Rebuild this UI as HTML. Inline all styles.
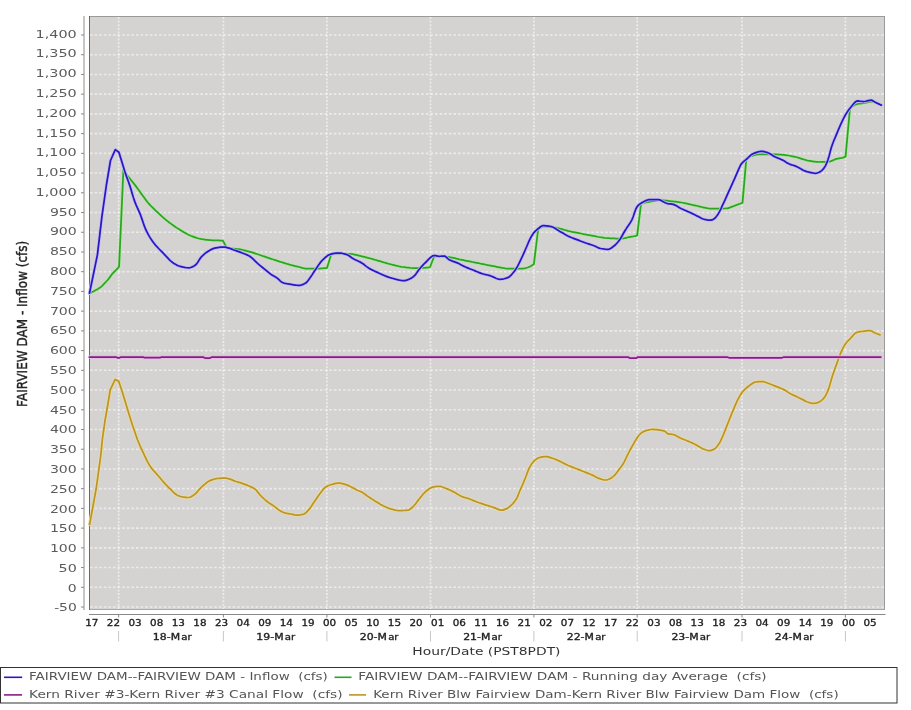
<!DOCTYPE html><html><head><meta charset="utf-8"><style>html,body{margin:0;padding:0;background:#fff;width:911px;height:710px;overflow:hidden}svg{display:block;will-change:transform}text{font-family:'DejaVu Sans','Liberation Sans',sans-serif}</style></head><body>
<svg width="911" height="710" viewBox="0 0 911 710">
<rect x="0" y="0" width="911" height="710" fill="#fff"/>
<rect x="89" y="16" width="796" height="594" fill="#d4d3d2"/>
<path d="M90 607.02H884M90 587.3H884M90 567.57H884M90 547.85H884M90 528.12H884M90 508.4H884M90 488.67H884M90 468.95H884M90 449.22H884M90 429.5H884M90 409.77H884M90 390.05H884M90 370.32H884M90 350.6H884M90 330.87H884M90 311.15H884M90 291.42H884M90 271.7H884M90 251.97H884M90 232.25H884M90 212.52H884M90 192.8H884M90 173.07H884M90 153.35H884M90 133.62H884M90 113.9H884M90 94.17H884M90 74.45H884M90 54.72H884M90 35H884" stroke="#fff" stroke-opacity="0.55" stroke-width="1.6" stroke-dasharray="2.6,2" fill="none"/>
<path d="M118.6 17V609M223.4 17V609M326.9 17V609M430.5 17V609M533.9 17V609M637.2 17V609M742 17V609M845.4 17V609" stroke="#fff" stroke-opacity="0.55" stroke-width="1.8" stroke-dasharray="2,1.6" fill="none"/>
<path d="M89 16.5H885M884.5 16V610" stroke="#9a9a9a" stroke-width="1" fill="none"/>
<path d="M89 609.5H885" stroke="#ababab" stroke-width="1" fill="none"/>
<path d="M89.5 16V610" stroke="#686868" stroke-width="1" fill="none"/>
<polyline points="89.6,524.5 96.2,488.5 100.7,456 102.4,439 104.9,421.3 107.8,404.5 110.3,389.7 115.2,379.4 118.7,381.3 121.6,389.7 124.6,399.6 128.5,412.4 132.5,425.2 137.4,439.5 138.9,443.17 140.4,446.58 141.9,449.9 143.4,453.23 144.9,456.48 146.4,459.5 147.9,462.33 149.4,464.98 150.9,467.3 152.26,469.1 153.62,470.7 154.98,472.2 156.34,473.67 157.7,475.2 159.06,476.8 160.42,478.41 161.78,480.02 163.14,481.59 164.5,483.1 165.84,484.53 167.18,485.93 168.52,487.29 169.86,488.61 171.2,489.9 172.62,491.32 174.05,492.77 175.47,494.05 176.9,495 178.32,495.68 179.75,496.26 181.18,496.71 182.6,497 184.05,497.19 185.5,497.35 186.95,497.46 188.4,497.5 189.85,497.25 191.3,496.61 192.75,495.74 194.2,494.8 195.6,493.66 197,492.15 198.4,490.47 199.8,488.82 201.2,487.4 202.53,486.21 203.86,485.02 205.19,483.87 206.51,482.8 207.84,481.84 209.17,481.02 210.5,480.4 211.9,479.87 213.3,479.4 214.7,479 216.1,478.7 217.5,478.5 218.88,478.37 220.26,478.26 221.64,478.18 223.02,478.12 224.4,478.1 225.85,478.2 227.3,478.46 228.75,478.81 230.2,479.2 231.38,479.59 232.55,480.1 233.72,480.63 234.9,481.1 236.22,481.53 237.54,481.92 238.86,482.29 240.18,482.68 241.5,483.1 242.87,483.57 244.23,484.07 245.6,484.59 246.97,485.13 248.33,485.7 249.7,486.3 250.92,486.84 252.15,487.4 253.38,488.04 254.6,488.8 255.92,489.94 257.24,491.43 258.56,493.1 259.88,494.74 261.2,496.2 262.52,497.48 263.84,498.7 265.16,499.86 266.48,500.96 267.8,502 269.12,502.95 270.44,503.81 271.76,504.65 273.08,505.49 274.4,506.4 275.62,507.35 276.85,508.37 278.07,509.35 279.3,510.2 280.55,510.95 281.8,511.65 283.05,512.25 284.3,512.7 285.62,513.04 286.94,513.31 288.26,513.55 289.58,513.77 290.9,514 292.22,514.28 293.54,514.6 294.86,514.9 296.18,515.12 297.5,515.2 298.8,515.14 300.1,514.98 301.4,514.72 302.7,514.39 304,514 305.25,513.32 306.5,512.2 307.75,510.83 309,509.4 310.43,507.61 311.85,505.53 313.27,503.33 314.7,501.2 316.15,499.08 317.6,496.94 319.05,494.85 320.5,492.9 321.73,491.27 322.95,489.66 324.17,488.24 325.4,487.2 326.72,486.43 328.04,485.78 329.36,485.24 330.68,484.78 332,484.4 333.32,484.04 334.64,483.69 335.96,483.39 337.28,483.18 338.6,483.1 339.92,483.18 341.24,483.39 342.56,483.69 343.88,484.04 345.2,484.4 346.52,484.81 347.84,485.33 349.16,485.92 350.48,486.55 351.8,487.2 353.02,487.86 354.25,488.6 355.48,489.34 356.7,490 357.95,490.55 359.2,491.03 360.45,491.52 361.7,492.1 363.02,492.86 364.34,493.75 365.66,494.71 366.98,495.68 368.3,496.6 369.68,497.52 371.07,498.44 372.45,499.36 373.83,500.26 375.22,501.14 376.6,502 377.92,502.81 379.24,503.61 380.56,504.4 381.88,505.13 383.2,505.8 384.57,506.45 385.93,507.08 387.3,507.68 388.67,508.23 390.03,508.71 391.4,509.1 392.77,509.45 394.13,509.79 395.5,510.11 396.87,510.36 398.23,510.54 399.6,510.6 400.98,510.59 402.37,510.56 403.75,510.5 405.13,510.42 406.52,510.32 407.9,510.2 409.12,509.82 410.35,509.02 411.57,507.99 412.8,506.9 414.12,505.57 415.44,503.94 416.76,502.16 418.08,500.37 419.4,498.7 420.72,497.1 422.04,495.48 423.36,493.92 424.68,492.5 426,491.3 427.32,490.25 428.64,489.24 429.96,488.35 431.28,487.65 432.6,487.2 433.92,486.92 435.24,486.67 436.56,486.48 437.88,486.35 439.2,486.3 440.5,486.43 441.8,486.78 443.1,487.25 444.4,487.79 445.7,488.3 447.08,488.84 448.47,489.43 449.85,490.06 451.23,490.73 452.62,491.41 454,492.1 455.37,492.83 456.73,493.63 458.1,494.45 459.47,495.25 460.83,495.98 462.2,496.6 463.52,497.08 464.84,497.49 466.16,497.88 467.48,498.27 468.8,498.7 470.17,499.21 471.53,499.76 472.9,500.34 474.27,500.91 475.63,501.47 477,502 478.38,502.5 479.77,502.98 481.15,503.44 482.53,503.9 483.92,504.35 485.3,504.8 486.67,505.24 488.03,505.67 489.4,506.1 490.77,506.53 492.13,506.96 493.5,507.4 494.87,507.92 496.23,508.53 497.6,509.14 498.97,509.67 500.33,510.06 501.7,510.2 502.95,510.06 504.2,509.68 505.45,509.17 506.7,508.6 507.93,507.91 509.15,507.01 510.38,505.95 511.6,504.8 512.83,503.57 514.05,502.18 515.27,500.58 516.5,498.7 517.63,496.38 518.77,493.53 519.9,490.7 521.15,487.83 522.4,485 523.65,482.14 524.9,479.2 526.12,476.02 527.35,472.64 528.57,469.46 529.8,466.9 531.05,464.84 532.3,463.02 533.55,461.49 534.8,460.3 536.02,459.38 537.25,458.58 538.48,457.94 539.7,457.5 541.15,457.12 542.6,456.81 544.05,456.58 545.5,456.5 546.92,456.63 548.35,456.95 549.78,457.37 551.2,457.8 552.58,458.23 553.97,458.73 555.35,459.29 556.73,459.87 558.12,460.48 559.5,461.1 560.87,461.74 562.23,462.43 563.6,463.15 564.97,463.86 566.33,464.56 567.7,465.2 569.07,465.79 570.43,466.35 571.8,466.9 573.17,467.43 574.53,467.96 575.9,468.5 577.28,469.05 578.67,469.6 580.05,470.15 581.43,470.7 582.82,471.25 584.2,471.8 585.57,472.34 586.93,472.87 588.3,473.4 589.67,473.94 591.03,474.51 592.4,475.1 593.72,475.75 595.04,476.48 596.36,477.21 597.68,477.88 599,478.4 600.32,478.84 601.64,479.27 602.96,479.64 604.28,479.9 605.6,480 606.83,479.86 608.05,479.49 609.27,478.97 610.5,478.4 611.73,477.67 612.95,476.69 614.17,475.54 615.4,474.3 616.87,472.57 618.33,470.55 619.8,468.5 621.25,466.59 622.7,464.5 624.2,461.83 625.7,458.77 627.2,455.61 628.7,452.6 629.93,450.3 631.15,448.04 632.38,445.84 633.6,443.7 634.9,441.43 636.2,439.23 637.5,437.3 638.83,435.54 640.17,433.96 641.5,432.8 642.75,432.04 644,431.4 645.25,430.89 646.5,430.5 647.98,430.11 649.45,429.75 650.92,429.5 652.4,429.4 653.9,429.44 655.4,429.55 656.9,429.7 658.4,429.89 659.9,430.1 661.15,430.3 662.4,430.55 663.65,430.88 664.9,431.3 666,432.11 667.1,433.21 668.2,433.9 669.45,434.1 670.7,434.22 671.95,434.33 673.2,434.5 674.52,434.91 675.84,435.56 677.16,436.33 678.48,437.12 679.8,437.8 681.17,438.39 682.53,438.94 683.9,439.47 685.27,439.99 686.63,440.53 688,441.1 689.37,441.69 690.73,442.3 692.1,442.91 693.47,443.55 694.83,444.21 696.2,444.9 697.52,445.65 698.84,446.48 700.16,447.31 701.48,448.08 702.8,448.7 704.12,449.24 705.44,449.78 706.76,450.25 708.08,450.58 709.4,450.7 710.62,450.56 711.85,450.18 713.07,449.63 714.3,449 715.55,448.09 716.8,446.76 718.05,445.12 719.3,443.3 720.52,441.14 721.75,438.48 722.98,435.55 724.2,432.6 725.43,429.56 726.67,426.37 727.9,423.2 729.17,420 730.45,416.81 731.73,413.67 733,410.6 734.25,407.6 735.5,404.62 736.75,401.78 738,399.2 739.27,396.82 740.53,394.63 741.8,392.8 743.08,391.26 744.36,389.87 745.64,388.62 746.92,387.51 748.2,386.5 749.47,385.54 750.73,384.57 752,383.67 753.27,382.9 754.53,382.32 755.8,382 757.06,381.84 758.32,381.7 759.58,381.59 760.84,381.52 762.1,381.5 763.42,381.64 764.74,381.99 766.06,382.47 767.38,383 768.7,383.5 770.02,383.98 771.34,384.49 772.66,385.02 773.98,385.57 775.3,386.1 776.67,386.63 778.03,387.14 779.4,387.65 780.77,388.19 782.13,388.76 783.5,389.4 784.82,390.13 786.14,390.97 787.46,391.86 788.78,392.73 790.1,393.5 791.48,394.2 792.85,394.84 794.23,395.46 795.6,396.1 797.02,396.79 798.45,397.49 799.88,398.19 801.3,398.9 802.7,399.63 804.1,400.38 805.5,401.1 806.9,401.7 808.3,402.26 809.7,402.81 811.1,403.23 812.5,403.4 813.92,403.32 815.35,403.1 816.78,402.78 818.2,402.4 819.6,401.81 821,400.86 822.4,399.64 823.8,398.2 825.2,396.24 826.6,393.56 828,390.4 829.43,386.2 830.87,381.14 832.3,376.3 833.7,372.18 835.1,368.26 836.5,364.4 837.9,360.47 839.3,356.61 840.7,353.1 842.1,349.91 843.5,346.99 844.9,344.6 846.33,342.73 847.75,341.16 849.17,339.74 850.6,338.3 852,336.69 853.4,335.01 854.8,333.58 856.2,332.7 857.6,332.27 859,331.95 860.4,331.71 861.8,331.5 863.22,331.29 864.63,331.08 866.05,330.9 867.47,330.74 868.88,330.64 870.3,330.6 871.7,331.01 873.1,331.89 874.5,332.7 875.9,333.29 877.3,333.84 878.7,334.35 880.1,334.8" fill="none" stroke="#ecdca0" stroke-width="3.3" stroke-linejoin="round" stroke-linecap="round"/>
<polyline points="89.6,524.5 96.2,488.5 100.7,456 102.4,439 104.9,421.3 107.8,404.5 110.3,389.7 115.2,379.4 118.7,381.3 121.6,389.7 124.6,399.6 128.5,412.4 132.5,425.2 137.4,439.5 138.9,443.17 140.4,446.58 141.9,449.9 143.4,453.23 144.9,456.48 146.4,459.5 147.9,462.33 149.4,464.98 150.9,467.3 152.26,469.1 153.62,470.7 154.98,472.2 156.34,473.67 157.7,475.2 159.06,476.8 160.42,478.41 161.78,480.02 163.14,481.59 164.5,483.1 165.84,484.53 167.18,485.93 168.52,487.29 169.86,488.61 171.2,489.9 172.62,491.32 174.05,492.77 175.47,494.05 176.9,495 178.32,495.68 179.75,496.26 181.18,496.71 182.6,497 184.05,497.19 185.5,497.35 186.95,497.46 188.4,497.5 189.85,497.25 191.3,496.61 192.75,495.74 194.2,494.8 195.6,493.66 197,492.15 198.4,490.47 199.8,488.82 201.2,487.4 202.53,486.21 203.86,485.02 205.19,483.87 206.51,482.8 207.84,481.84 209.17,481.02 210.5,480.4 211.9,479.87 213.3,479.4 214.7,479 216.1,478.7 217.5,478.5 218.88,478.37 220.26,478.26 221.64,478.18 223.02,478.12 224.4,478.1 225.85,478.2 227.3,478.46 228.75,478.81 230.2,479.2 231.38,479.59 232.55,480.1 233.72,480.63 234.9,481.1 236.22,481.53 237.54,481.92 238.86,482.29 240.18,482.68 241.5,483.1 242.87,483.57 244.23,484.07 245.6,484.59 246.97,485.13 248.33,485.7 249.7,486.3 250.92,486.84 252.15,487.4 253.38,488.04 254.6,488.8 255.92,489.94 257.24,491.43 258.56,493.1 259.88,494.74 261.2,496.2 262.52,497.48 263.84,498.7 265.16,499.86 266.48,500.96 267.8,502 269.12,502.95 270.44,503.81 271.76,504.65 273.08,505.49 274.4,506.4 275.62,507.35 276.85,508.37 278.07,509.35 279.3,510.2 280.55,510.95 281.8,511.65 283.05,512.25 284.3,512.7 285.62,513.04 286.94,513.31 288.26,513.55 289.58,513.77 290.9,514 292.22,514.28 293.54,514.6 294.86,514.9 296.18,515.12 297.5,515.2 298.8,515.14 300.1,514.98 301.4,514.72 302.7,514.39 304,514 305.25,513.32 306.5,512.2 307.75,510.83 309,509.4 310.43,507.61 311.85,505.53 313.27,503.33 314.7,501.2 316.15,499.08 317.6,496.94 319.05,494.85 320.5,492.9 321.73,491.27 322.95,489.66 324.17,488.24 325.4,487.2 326.72,486.43 328.04,485.78 329.36,485.24 330.68,484.78 332,484.4 333.32,484.04 334.64,483.69 335.96,483.39 337.28,483.18 338.6,483.1 339.92,483.18 341.24,483.39 342.56,483.69 343.88,484.04 345.2,484.4 346.52,484.81 347.84,485.33 349.16,485.92 350.48,486.55 351.8,487.2 353.02,487.86 354.25,488.6 355.48,489.34 356.7,490 357.95,490.55 359.2,491.03 360.45,491.52 361.7,492.1 363.02,492.86 364.34,493.75 365.66,494.71 366.98,495.68 368.3,496.6 369.68,497.52 371.07,498.44 372.45,499.36 373.83,500.26 375.22,501.14 376.6,502 377.92,502.81 379.24,503.61 380.56,504.4 381.88,505.13 383.2,505.8 384.57,506.45 385.93,507.08 387.3,507.68 388.67,508.23 390.03,508.71 391.4,509.1 392.77,509.45 394.13,509.79 395.5,510.11 396.87,510.36 398.23,510.54 399.6,510.6 400.98,510.59 402.37,510.56 403.75,510.5 405.13,510.42 406.52,510.32 407.9,510.2 409.12,509.82 410.35,509.02 411.57,507.99 412.8,506.9 414.12,505.57 415.44,503.94 416.76,502.16 418.08,500.37 419.4,498.7 420.72,497.1 422.04,495.48 423.36,493.92 424.68,492.5 426,491.3 427.32,490.25 428.64,489.24 429.96,488.35 431.28,487.65 432.6,487.2 433.92,486.92 435.24,486.67 436.56,486.48 437.88,486.35 439.2,486.3 440.5,486.43 441.8,486.78 443.1,487.25 444.4,487.79 445.7,488.3 447.08,488.84 448.47,489.43 449.85,490.06 451.23,490.73 452.62,491.41 454,492.1 455.37,492.83 456.73,493.63 458.1,494.45 459.47,495.25 460.83,495.98 462.2,496.6 463.52,497.08 464.84,497.49 466.16,497.88 467.48,498.27 468.8,498.7 470.17,499.21 471.53,499.76 472.9,500.34 474.27,500.91 475.63,501.47 477,502 478.38,502.5 479.77,502.98 481.15,503.44 482.53,503.9 483.92,504.35 485.3,504.8 486.67,505.24 488.03,505.67 489.4,506.1 490.77,506.53 492.13,506.96 493.5,507.4 494.87,507.92 496.23,508.53 497.6,509.14 498.97,509.67 500.33,510.06 501.7,510.2 502.95,510.06 504.2,509.68 505.45,509.17 506.7,508.6 507.93,507.91 509.15,507.01 510.38,505.95 511.6,504.8 512.83,503.57 514.05,502.18 515.27,500.58 516.5,498.7 517.63,496.38 518.77,493.53 519.9,490.7 521.15,487.83 522.4,485 523.65,482.14 524.9,479.2 526.12,476.02 527.35,472.64 528.57,469.46 529.8,466.9 531.05,464.84 532.3,463.02 533.55,461.49 534.8,460.3 536.02,459.38 537.25,458.58 538.48,457.94 539.7,457.5 541.15,457.12 542.6,456.81 544.05,456.58 545.5,456.5 546.92,456.63 548.35,456.95 549.78,457.37 551.2,457.8 552.58,458.23 553.97,458.73 555.35,459.29 556.73,459.87 558.12,460.48 559.5,461.1 560.87,461.74 562.23,462.43 563.6,463.15 564.97,463.86 566.33,464.56 567.7,465.2 569.07,465.79 570.43,466.35 571.8,466.9 573.17,467.43 574.53,467.96 575.9,468.5 577.28,469.05 578.67,469.6 580.05,470.15 581.43,470.7 582.82,471.25 584.2,471.8 585.57,472.34 586.93,472.87 588.3,473.4 589.67,473.94 591.03,474.51 592.4,475.1 593.72,475.75 595.04,476.48 596.36,477.21 597.68,477.88 599,478.4 600.32,478.84 601.64,479.27 602.96,479.64 604.28,479.9 605.6,480 606.83,479.86 608.05,479.49 609.27,478.97 610.5,478.4 611.73,477.67 612.95,476.69 614.17,475.54 615.4,474.3 616.87,472.57 618.33,470.55 619.8,468.5 621.25,466.59 622.7,464.5 624.2,461.83 625.7,458.77 627.2,455.61 628.7,452.6 629.93,450.3 631.15,448.04 632.38,445.84 633.6,443.7 634.9,441.43 636.2,439.23 637.5,437.3 638.83,435.54 640.17,433.96 641.5,432.8 642.75,432.04 644,431.4 645.25,430.89 646.5,430.5 647.98,430.11 649.45,429.75 650.92,429.5 652.4,429.4 653.9,429.44 655.4,429.55 656.9,429.7 658.4,429.89 659.9,430.1 661.15,430.3 662.4,430.55 663.65,430.88 664.9,431.3 666,432.11 667.1,433.21 668.2,433.9 669.45,434.1 670.7,434.22 671.95,434.33 673.2,434.5 674.52,434.91 675.84,435.56 677.16,436.33 678.48,437.12 679.8,437.8 681.17,438.39 682.53,438.94 683.9,439.47 685.27,439.99 686.63,440.53 688,441.1 689.37,441.69 690.73,442.3 692.1,442.91 693.47,443.55 694.83,444.21 696.2,444.9 697.52,445.65 698.84,446.48 700.16,447.31 701.48,448.08 702.8,448.7 704.12,449.24 705.44,449.78 706.76,450.25 708.08,450.58 709.4,450.7 710.62,450.56 711.85,450.18 713.07,449.63 714.3,449 715.55,448.09 716.8,446.76 718.05,445.12 719.3,443.3 720.52,441.14 721.75,438.48 722.98,435.55 724.2,432.6 725.43,429.56 726.67,426.37 727.9,423.2 729.17,420 730.45,416.81 731.73,413.67 733,410.6 734.25,407.6 735.5,404.62 736.75,401.78 738,399.2 739.27,396.82 740.53,394.63 741.8,392.8 743.08,391.26 744.36,389.87 745.64,388.62 746.92,387.51 748.2,386.5 749.47,385.54 750.73,384.57 752,383.67 753.27,382.9 754.53,382.32 755.8,382 757.06,381.84 758.32,381.7 759.58,381.59 760.84,381.52 762.1,381.5 763.42,381.64 764.74,381.99 766.06,382.47 767.38,383 768.7,383.5 770.02,383.98 771.34,384.49 772.66,385.02 773.98,385.57 775.3,386.1 776.67,386.63 778.03,387.14 779.4,387.65 780.77,388.19 782.13,388.76 783.5,389.4 784.82,390.13 786.14,390.97 787.46,391.86 788.78,392.73 790.1,393.5 791.48,394.2 792.85,394.84 794.23,395.46 795.6,396.1 797.02,396.79 798.45,397.49 799.88,398.19 801.3,398.9 802.7,399.63 804.1,400.38 805.5,401.1 806.9,401.7 808.3,402.26 809.7,402.81 811.1,403.23 812.5,403.4 813.92,403.32 815.35,403.1 816.78,402.78 818.2,402.4 819.6,401.81 821,400.86 822.4,399.64 823.8,398.2 825.2,396.24 826.6,393.56 828,390.4 829.43,386.2 830.87,381.14 832.3,376.3 833.7,372.18 835.1,368.26 836.5,364.4 837.9,360.47 839.3,356.61 840.7,353.1 842.1,349.91 843.5,346.99 844.9,344.6 846.33,342.73 847.75,341.16 849.17,339.74 850.6,338.3 852,336.69 853.4,335.01 854.8,333.58 856.2,332.7 857.6,332.27 859,331.95 860.4,331.71 861.8,331.5 863.22,331.29 864.63,331.08 866.05,330.9 867.47,330.74 868.88,330.64 870.3,330.6 871.7,331.01 873.1,331.89 874.5,332.7 875.9,333.29 877.3,333.84 878.7,334.35 880.1,334.8" fill="none" stroke="#bb9526" stroke-width="1.75" stroke-linejoin="round" stroke-linecap="round"/>
<polyline points="89.5,357 116,357 117.5,357.8 119.5,357.8 121,357 143,357 144.5,357.7 160,357.7 161.5,357 203,357 205,358 210,358 212,357 628,357 630,358.2 636,358.2 638,357 727,357 729,357.8 782,357.8 784,357 880.8,357" fill="none" stroke="#e6b8e6" stroke-width="3.3" stroke-linejoin="round" stroke-linecap="round"/>
<polyline points="89.5,357 116,357 117.5,357.8 119.5,357.8 121,357 143,357 144.5,357.7 160,357.7 161.5,357 203,357 205,358 210,358 212,357 628,357 630,358.2 636,358.2 638,357 727,357 729,357.8 782,357.8 784,357 880.8,357" fill="none" stroke="#861c86" stroke-width="1.75" stroke-linejoin="round" stroke-linecap="round"/>
<polyline points="89.5,293.2 90.78,292.65 92.06,292.06 93.34,291.44 94.62,290.78 95.9,290.1 97.05,289.47 98.2,288.82 99.35,288.11 100.5,287.3 101.9,286.09 103.3,284.68 104.7,283.2 106.07,281.74 107.43,280.22 108.8,278.6 110.1,276.88 111.4,275.07 112.7,273.4 113.97,272.04 115.23,270.8 116.5,269.5 117.8,268.31 119.1,266.5 123.4,169.9 124.53,170.83 125.67,172.85 126.8,174.8 128.12,176.52 129.43,178.15 130.75,179.74 132.07,181.32 133.38,182.93 134.7,184.6 136.02,186.36 137.33,188.17 138.65,190.01 139.97,191.86 141.28,193.7 142.6,195.5 144.07,197.52 145.55,199.55 147.03,201.5 148.5,203.3 149.98,204.95 151.47,206.5 152.95,207.98 154.43,209.4 155.92,210.8 157.4,212.2 158.87,213.58 160.33,214.95 161.8,216.3 163.27,217.61 164.73,218.88 166.2,220.1 167.52,221.15 168.83,222.18 170.15,223.17 171.47,224.13 172.78,225.08 174.1,226 175.47,226.94 176.85,227.86 178.22,228.75 179.6,229.6 181.01,230.46 182.43,231.32 183.84,232.17 185.25,233 186.66,233.79 188.07,234.53 189.49,235.21 190.9,235.8 192.31,236.34 193.72,236.86 195.14,237.36 196.55,237.83 197.96,238.25 199.38,238.62 200.79,238.94 202.2,239.2 203.64,239.42 205.09,239.62 206.53,239.8 207.97,239.96 209.41,240.09 210.86,240.21 212.3,240.3 213.62,240.36 214.95,240.4 216.28,240.43 217.6,240.46 218.93,240.49 220.25,240.53 221.58,240.6 222.9,240.7 226.3,247 227.68,247.49 229.06,247.87 230.45,248.18 231.83,248.42 233.21,248.61 234.59,248.77 235.97,248.92 237.35,249.06 238.74,249.23 240.12,249.44 241.5,249.7 242.9,250.01 244.3,250.33 245.7,250.68 247.1,251.04 248.5,251.41 249.9,251.8 251.3,252.2 252.71,252.63 254.13,253.08 255.54,253.55 256.96,254.04 258.37,254.53 259.79,255.02 261.2,255.5 262.61,255.97 264.03,256.45 265.44,256.92 266.86,257.39 268.27,257.86 269.69,258.33 271.1,258.8 272.51,259.26 273.93,259.73 275.34,260.19 276.76,260.65 278.17,261.1 279.59,261.55 281,262 282.41,262.44 283.83,262.89 285.24,263.33 286.66,263.77 288.07,264.2 289.49,264.61 290.9,265 292.27,265.36 293.63,265.7 295,266.03 296.37,266.35 297.73,266.67 299.1,267 300.42,267.37 301.74,267.79 303.06,268.19 304.38,268.48 305.7,268.6 307.11,268.6 308.53,268.6 309.94,268.6 311.36,268.6 312.77,268.6 314.19,268.6 315.6,268.6 317.04,268.59 318.48,268.56 319.91,268.51 321.35,268.43 322.79,268.32 324.23,268.18 325.66,268.01 327.1,267.8 331.2,254.3 332.64,254.2 334.08,254.12 335.52,254.05 336.97,253.99 338.41,253.94 339.85,253.89 341.29,253.86 342.73,253.84 344.18,253.82 345.62,253.81 347.06,253.8 348.5,253.8 349.97,253.85 351.43,254 352.9,254.23 354.37,254.53 355.83,254.86 357.3,255.22 358.77,255.6 360.23,255.96 361.7,256.3 363.08,256.61 364.47,256.95 365.85,257.3 367.23,257.66 368.62,258.03 370,258.4 371.41,258.78 372.83,259.18 374.24,259.58 375.66,259.98 377.07,260.39 378.49,260.8 379.9,261.2 381.34,261.62 382.77,262.04 384.21,262.47 385.65,262.9 387.09,263.33 388.52,263.74 389.96,264.13 391.4,264.5 392.84,264.86 394.27,265.22 395.71,265.57 397.15,265.92 398.59,266.24 400.02,266.53 401.46,266.79 402.9,267 404.35,267.19 405.8,267.39 407.25,267.57 408.7,267.74 410.15,267.89 411.6,268 413.05,268.07 414.5,268.1 415.9,268.09 417.3,268.07 418.7,268.04 420.1,267.99 421.5,267.94 422.9,267.87 424.3,267.8 425.75,267.71 427.2,267.56 428.65,267.34 430.1,267 434.2,256.3 435.68,256.31 437.16,256.34 438.64,256.39 440.12,256.46 441.6,256.54 443.08,256.63 444.56,256.73 446.04,256.85 447.52,256.97 449,257.1 450.45,257.27 451.9,257.52 453.35,257.83 454.8,258.18 456.25,258.54 457.7,258.92 459.15,259.28 460.6,259.6 462.09,259.91 463.58,260.21 465.07,260.52 466.56,260.82 468.05,261.12 469.55,261.41 471.04,261.71 472.53,262.01 474.02,262.3 475.51,262.6 477,262.9 478.5,263.2 480,263.51 481.5,263.82 483,264.13 484.5,264.44 486,264.75 487.5,265.05 489,265.35 490.5,265.64 492,265.93 493.5,266.2 494.98,266.48 496.46,266.78 497.94,267.09 499.42,267.4 500.9,267.7 502.38,267.98 503.86,268.21 505.34,268.41 506.82,268.54 508.3,268.6 509.75,268.62 511.2,268.64 512.65,268.66 514.1,268.67 515.55,268.68 517,268.69 518.45,268.7 519.9,268.7 521.3,268.67 522.7,268.56 524.1,268.37 525.5,268.1 526.9,267.73 528.3,267.25 529.7,266.65 531.1,265.94 532.5,265.09 533.9,264.1 538.1,229.5 539.52,228.24 540.95,227.34 542.38,226.79 543.8,226.6 545.14,226.62 546.47,226.68 547.81,226.77 549.15,226.89 550.49,227.02 551.83,227.17 553.16,227.34 554.5,227.5 555.98,227.72 557.46,228.01 558.94,228.36 560.42,228.75 561.9,229.17 563.38,229.6 564.86,230.03 566.34,230.45 567.82,230.85 569.3,231.2 570.7,231.51 572.1,231.81 573.5,232.1 574.9,232.39 576.3,232.67 577.7,232.95 579.1,233.23 580.5,233.5 581.9,233.76 583.3,234.03 584.7,234.29 586.1,234.54 587.5,234.8 588.91,235.06 590.31,235.34 591.72,235.62 593.13,235.91 594.54,236.19 595.94,236.48 597.35,236.75 598.76,237.01 600.16,237.26 601.57,237.48 602.98,237.68 604.39,237.86 605.79,238 607.2,238.1 608.67,238.19 610.13,238.27 611.6,238.35 613.07,238.42 614.53,238.48 616,238.53 617.47,238.57 618.93,238.59 620.4,238.6 621.81,238.54 623.23,238.38 624.64,238.14 626.06,237.84 627.47,237.52 628.89,237.2 630.3,236.9 631.68,236.67 633.06,236.47 634.44,236.22 635.82,235.86 637.2,235.3 641,204 642.34,203.37 643.67,202.91 645.01,202.56 646.35,202.31 647.69,202.11 649.03,201.93 650.36,201.74 651.7,201.5 653.08,201.19 654.47,200.86 655.85,200.54 657.23,200.26 658.62,200.07 660,200 661.41,200.04 662.83,200.15 664.24,200.31 665.66,200.51 667.07,200.71 668.49,200.92 669.9,201.1 671.34,201.26 672.77,201.42 674.21,201.58 675.65,201.74 677.09,201.91 678.52,202.09 679.96,202.29 681.4,202.5 682.87,202.75 684.33,203.04 685.8,203.36 687.27,203.7 688.73,204.05 690.2,204.41 691.67,204.76 693.13,205.09 694.6,205.4 695.99,205.69 697.38,206.01 698.78,206.34 700.17,206.68 701.56,207.02 702.95,207.35 704.35,207.66 705.74,207.94 707.13,208.19 708.52,208.4 709.92,208.56 711.31,208.66 712.7,208.7 714.2,208.7 715.7,208.69 717.2,208.67 718.7,208.65 720.2,208.62 721.7,208.59 723.2,208.55 724.7,208.5 726.2,208.45 727.7,208.4 742.5,202.8 746.2,160.1 747.65,158.3 749.1,157.11 750.55,156.33 752,155.8 753.48,155.34 754.96,154.92 756.44,154.6 757.92,154.38 759.4,154.3 760.9,154.3 762.4,154.3 763.9,154.3 765.4,154.3 766.9,154.3 768.4,154.3 769.9,154.3 771.31,154.31 772.72,154.33 774.13,154.37 775.54,154.42 776.96,154.48 778.37,154.55 779.78,154.63 781.19,154.71 782.6,154.8 784.01,154.91 785.42,155.07 786.83,155.27 788.24,155.5 789.66,155.75 791.07,156.02 792.48,156.31 793.89,156.6 795.3,156.9 796.74,157.24 798.19,157.65 799.63,158.1 801.08,158.57 802.52,159.05 803.97,159.51 805.41,159.94 806.86,160.31 808.3,160.6 809.71,160.85 811.12,161.09 812.54,161.33 813.95,161.54 815.36,161.73 816.77,161.87 818.19,161.97 819.6,162 821,161.99 822.4,161.98 823.8,161.95 825.2,161.91 826.6,161.86 828,161.8 829.42,161.6 830.83,161.18 832.25,160.62 833.67,160 835.08,159.4 836.5,158.9 837.8,158.58 839.1,158.34 840.4,158.13 841.7,157.9 843,157.59 844.3,157.14 845.6,156.5 849.9,108.9 851.18,107.41 852.47,106.26 853.75,105.41 855.03,104.78 856.32,104.33 857.6,104 859,103.73 860.4,103.53 861.8,103.36 863.2,103.2 864.6,103 866.02,102.7 867.44,102.34 868.86,101.98 870.28,101.71 871.7,101.6 873.1,101.7 874.5,101.98 875.9,102.44 877.3,103.06 878.7,103.81 880.1,104.7" fill="none" stroke="#b8e4a8" stroke-width="3.3" stroke-linejoin="round" stroke-linecap="round"/>
<polyline points="89.5,293.2 90.78,292.65 92.06,292.06 93.34,291.44 94.62,290.78 95.9,290.1 97.05,289.47 98.2,288.82 99.35,288.11 100.5,287.3 101.9,286.09 103.3,284.68 104.7,283.2 106.07,281.74 107.43,280.22 108.8,278.6 110.1,276.88 111.4,275.07 112.7,273.4 113.97,272.04 115.23,270.8 116.5,269.5 117.8,268.31 119.1,266.5 123.4,169.9 124.53,170.83 125.67,172.85 126.8,174.8 128.12,176.52 129.43,178.15 130.75,179.74 132.07,181.32 133.38,182.93 134.7,184.6 136.02,186.36 137.33,188.17 138.65,190.01 139.97,191.86 141.28,193.7 142.6,195.5 144.07,197.52 145.55,199.55 147.03,201.5 148.5,203.3 149.98,204.95 151.47,206.5 152.95,207.98 154.43,209.4 155.92,210.8 157.4,212.2 158.87,213.58 160.33,214.95 161.8,216.3 163.27,217.61 164.73,218.88 166.2,220.1 167.52,221.15 168.83,222.18 170.15,223.17 171.47,224.13 172.78,225.08 174.1,226 175.47,226.94 176.85,227.86 178.22,228.75 179.6,229.6 181.01,230.46 182.43,231.32 183.84,232.17 185.25,233 186.66,233.79 188.07,234.53 189.49,235.21 190.9,235.8 192.31,236.34 193.72,236.86 195.14,237.36 196.55,237.83 197.96,238.25 199.38,238.62 200.79,238.94 202.2,239.2 203.64,239.42 205.09,239.62 206.53,239.8 207.97,239.96 209.41,240.09 210.86,240.21 212.3,240.3 213.62,240.36 214.95,240.4 216.28,240.43 217.6,240.46 218.93,240.49 220.25,240.53 221.58,240.6 222.9,240.7 226.3,247 227.68,247.49 229.06,247.87 230.45,248.18 231.83,248.42 233.21,248.61 234.59,248.77 235.97,248.92 237.35,249.06 238.74,249.23 240.12,249.44 241.5,249.7 242.9,250.01 244.3,250.33 245.7,250.68 247.1,251.04 248.5,251.41 249.9,251.8 251.3,252.2 252.71,252.63 254.13,253.08 255.54,253.55 256.96,254.04 258.37,254.53 259.79,255.02 261.2,255.5 262.61,255.97 264.03,256.45 265.44,256.92 266.86,257.39 268.27,257.86 269.69,258.33 271.1,258.8 272.51,259.26 273.93,259.73 275.34,260.19 276.76,260.65 278.17,261.1 279.59,261.55 281,262 282.41,262.44 283.83,262.89 285.24,263.33 286.66,263.77 288.07,264.2 289.49,264.61 290.9,265 292.27,265.36 293.63,265.7 295,266.03 296.37,266.35 297.73,266.67 299.1,267 300.42,267.37 301.74,267.79 303.06,268.19 304.38,268.48 305.7,268.6 307.11,268.6 308.53,268.6 309.94,268.6 311.36,268.6 312.77,268.6 314.19,268.6 315.6,268.6 317.04,268.59 318.48,268.56 319.91,268.51 321.35,268.43 322.79,268.32 324.23,268.18 325.66,268.01 327.1,267.8 331.2,254.3 332.64,254.2 334.08,254.12 335.52,254.05 336.97,253.99 338.41,253.94 339.85,253.89 341.29,253.86 342.73,253.84 344.18,253.82 345.62,253.81 347.06,253.8 348.5,253.8 349.97,253.85 351.43,254 352.9,254.23 354.37,254.53 355.83,254.86 357.3,255.22 358.77,255.6 360.23,255.96 361.7,256.3 363.08,256.61 364.47,256.95 365.85,257.3 367.23,257.66 368.62,258.03 370,258.4 371.41,258.78 372.83,259.18 374.24,259.58 375.66,259.98 377.07,260.39 378.49,260.8 379.9,261.2 381.34,261.62 382.77,262.04 384.21,262.47 385.65,262.9 387.09,263.33 388.52,263.74 389.96,264.13 391.4,264.5 392.84,264.86 394.27,265.22 395.71,265.57 397.15,265.92 398.59,266.24 400.02,266.53 401.46,266.79 402.9,267 404.35,267.19 405.8,267.39 407.25,267.57 408.7,267.74 410.15,267.89 411.6,268 413.05,268.07 414.5,268.1 415.9,268.09 417.3,268.07 418.7,268.04 420.1,267.99 421.5,267.94 422.9,267.87 424.3,267.8 425.75,267.71 427.2,267.56 428.65,267.34 430.1,267 434.2,256.3 435.68,256.31 437.16,256.34 438.64,256.39 440.12,256.46 441.6,256.54 443.08,256.63 444.56,256.73 446.04,256.85 447.52,256.97 449,257.1 450.45,257.27 451.9,257.52 453.35,257.83 454.8,258.18 456.25,258.54 457.7,258.92 459.15,259.28 460.6,259.6 462.09,259.91 463.58,260.21 465.07,260.52 466.56,260.82 468.05,261.12 469.55,261.41 471.04,261.71 472.53,262.01 474.02,262.3 475.51,262.6 477,262.9 478.5,263.2 480,263.51 481.5,263.82 483,264.13 484.5,264.44 486,264.75 487.5,265.05 489,265.35 490.5,265.64 492,265.93 493.5,266.2 494.98,266.48 496.46,266.78 497.94,267.09 499.42,267.4 500.9,267.7 502.38,267.98 503.86,268.21 505.34,268.41 506.82,268.54 508.3,268.6 509.75,268.62 511.2,268.64 512.65,268.66 514.1,268.67 515.55,268.68 517,268.69 518.45,268.7 519.9,268.7 521.3,268.67 522.7,268.56 524.1,268.37 525.5,268.1 526.9,267.73 528.3,267.25 529.7,266.65 531.1,265.94 532.5,265.09 533.9,264.1 538.1,229.5 539.52,228.24 540.95,227.34 542.38,226.79 543.8,226.6 545.14,226.62 546.47,226.68 547.81,226.77 549.15,226.89 550.49,227.02 551.83,227.17 553.16,227.34 554.5,227.5 555.98,227.72 557.46,228.01 558.94,228.36 560.42,228.75 561.9,229.17 563.38,229.6 564.86,230.03 566.34,230.45 567.82,230.85 569.3,231.2 570.7,231.51 572.1,231.81 573.5,232.1 574.9,232.39 576.3,232.67 577.7,232.95 579.1,233.23 580.5,233.5 581.9,233.76 583.3,234.03 584.7,234.29 586.1,234.54 587.5,234.8 588.91,235.06 590.31,235.34 591.72,235.62 593.13,235.91 594.54,236.19 595.94,236.48 597.35,236.75 598.76,237.01 600.16,237.26 601.57,237.48 602.98,237.68 604.39,237.86 605.79,238 607.2,238.1 608.67,238.19 610.13,238.27 611.6,238.35 613.07,238.42 614.53,238.48 616,238.53 617.47,238.57 618.93,238.59 620.4,238.6 621.81,238.54 623.23,238.38 624.64,238.14 626.06,237.84 627.47,237.52 628.89,237.2 630.3,236.9 631.68,236.67 633.06,236.47 634.44,236.22 635.82,235.86 637.2,235.3 641,204 642.34,203.37 643.67,202.91 645.01,202.56 646.35,202.31 647.69,202.11 649.03,201.93 650.36,201.74 651.7,201.5 653.08,201.19 654.47,200.86 655.85,200.54 657.23,200.26 658.62,200.07 660,200 661.41,200.04 662.83,200.15 664.24,200.31 665.66,200.51 667.07,200.71 668.49,200.92 669.9,201.1 671.34,201.26 672.77,201.42 674.21,201.58 675.65,201.74 677.09,201.91 678.52,202.09 679.96,202.29 681.4,202.5 682.87,202.75 684.33,203.04 685.8,203.36 687.27,203.7 688.73,204.05 690.2,204.41 691.67,204.76 693.13,205.09 694.6,205.4 695.99,205.69 697.38,206.01 698.78,206.34 700.17,206.68 701.56,207.02 702.95,207.35 704.35,207.66 705.74,207.94 707.13,208.19 708.52,208.4 709.92,208.56 711.31,208.66 712.7,208.7 714.2,208.7 715.7,208.69 717.2,208.67 718.7,208.65 720.2,208.62 721.7,208.59 723.2,208.55 724.7,208.5 726.2,208.45 727.7,208.4 742.5,202.8 746.2,160.1 747.65,158.3 749.1,157.11 750.55,156.33 752,155.8 753.48,155.34 754.96,154.92 756.44,154.6 757.92,154.38 759.4,154.3 760.9,154.3 762.4,154.3 763.9,154.3 765.4,154.3 766.9,154.3 768.4,154.3 769.9,154.3 771.31,154.31 772.72,154.33 774.13,154.37 775.54,154.42 776.96,154.48 778.37,154.55 779.78,154.63 781.19,154.71 782.6,154.8 784.01,154.91 785.42,155.07 786.83,155.27 788.24,155.5 789.66,155.75 791.07,156.02 792.48,156.31 793.89,156.6 795.3,156.9 796.74,157.24 798.19,157.65 799.63,158.1 801.08,158.57 802.52,159.05 803.97,159.51 805.41,159.94 806.86,160.31 808.3,160.6 809.71,160.85 811.12,161.09 812.54,161.33 813.95,161.54 815.36,161.73 816.77,161.87 818.19,161.97 819.6,162 821,161.99 822.4,161.98 823.8,161.95 825.2,161.91 826.6,161.86 828,161.8 829.42,161.6 830.83,161.18 832.25,160.62 833.67,160 835.08,159.4 836.5,158.9 837.8,158.58 839.1,158.34 840.4,158.13 841.7,157.9 843,157.59 844.3,157.14 845.6,156.5 849.9,108.9 851.18,107.41 852.47,106.26 853.75,105.41 855.03,104.78 856.32,104.33 857.6,104 859,103.73 860.4,103.53 861.8,103.36 863.2,103.2 864.6,103 866.02,102.7 867.44,102.34 868.86,101.98 870.28,101.71 871.7,101.6 873.1,101.7 874.5,101.98 875.9,102.44 877.3,103.06 878.7,103.81 880.1,104.7" fill="none" stroke="#2aa622" stroke-width="1.75" stroke-linejoin="round" stroke-linecap="round"/>
<polyline points="89.5,293.2 97.4,254.9 101.9,216.6 106.4,185 110.5,160.5 115.3,149.6 118.9,152.3 124.9,171.8 126.12,175.34 127.35,178.7 128.58,182.06 129.8,185.6 131.03,189.51 132.25,193.67 133.47,197.74 134.7,201.4 136.17,205.11 137.65,208.42 139.12,211.67 140.6,215.2 141.82,218.62 143.05,222.33 144.28,225.93 145.5,229 146.92,231.96 148.34,234.66 149.76,237.11 151.18,239.35 152.6,241.4 154.04,243.31 155.49,245.07 156.93,246.71 158.37,248.26 159.81,249.75 161.26,251.22 162.7,252.7 164.11,254.19 165.52,255.7 166.94,257.21 168.35,258.69 169.76,260.09 171.18,261.38 172.59,262.53 174,263.5 175.4,264.34 176.8,265.1 178.2,265.73 179.6,266.2 180.9,266.54 182.2,266.87 183.5,267.17 184.8,267.43 186.1,267.62 187.4,267.75 188.7,267.8 190.04,267.66 191.38,267.26 192.72,266.66 194.06,265.92 195.4,265.1 196.82,263.64 198.25,261.45 199.68,259.12 201.1,257.2 202.44,255.83 203.78,254.57 205.12,253.42 206.46,252.4 207.8,251.5 209.16,250.67 210.52,249.87 211.88,249.17 213.24,248.6 214.6,248.2 216.1,247.89 217.6,247.6 219.1,247.36 220.6,247.17 222.1,247.04 223.6,247 225,247.11 226.4,247.41 227.8,247.79 229.2,248.2 230.53,248.64 231.87,249.17 233.2,249.7 234.58,250.2 235.97,250.69 237.35,251.17 238.73,251.66 240.12,252.17 241.5,252.7 242.87,253.23 244.23,253.76 245.6,254.3 246.97,254.89 248.33,255.55 249.7,256.3 251.07,257.25 252.43,258.42 253.8,259.73 255.17,261.1 256.53,262.45 257.9,263.7 259.22,264.81 260.54,265.9 261.86,266.97 263.18,268.03 264.5,269.1 265.82,270.19 267.14,271.29 268.46,272.38 269.78,273.43 271.1,274.4 272.42,275.27 273.74,276.05 275.06,276.82 276.38,277.61 277.7,278.5 278.93,279.56 280.15,280.78 281.38,281.89 282.6,282.6 283.98,283.03 285.37,283.37 286.75,283.64 288.13,283.87 289.52,284.09 290.9,284.3 292.27,284.54 293.63,284.78 295,285.02 296.37,285.21 297.73,285.35 299.1,285.4 300.42,285.27 301.74,284.92 303.06,284.39 304.38,283.74 305.7,283 306.93,281.96 308.15,280.42 309.38,278.65 310.6,276.9 311.85,275.13 313.1,273.25 314.35,271.34 315.6,269.5 316.92,267.55 318.24,265.56 319.56,263.63 320.88,261.87 322.2,260.4 323.57,259.07 324.93,257.79 326.3,256.62 327.67,255.61 329.03,254.81 330.4,254.3 331.77,253.96 333.13,253.65 334.5,253.38 335.87,253.18 337.23,253.05 338.6,253 339.97,253.06 341.33,253.23 342.7,253.49 344.07,253.82 345.43,254.19 346.8,254.6 348.12,255.18 349.44,256.01 350.76,256.98 352.08,257.96 353.4,258.8 354.78,259.53 356.17,260.18 357.55,260.81 358.93,261.45 360.32,262.13 361.7,262.9 363.02,263.79 364.34,264.81 365.66,265.88 366.98,266.9 368.3,267.8 369.71,268.63 371.13,269.4 372.54,270.13 373.96,270.82 375.37,271.49 376.79,272.14 378.2,272.8 379.58,273.44 380.97,274.08 382.35,274.7 383.73,275.3 385.12,275.87 386.5,276.4 387.82,276.87 389.14,277.33 390.46,277.75 391.78,278.14 393.1,278.5 394.44,278.85 395.78,279.23 397.11,279.59 398.45,279.94 399.79,280.24 401.12,280.48 402.46,280.64 403.8,280.7 405.23,280.55 406.65,280.15 408.07,279.6 409.5,279 410.75,278.4 412,277.65 413.25,276.74 414.5,275.7 415.73,274.33 416.95,272.59 418.17,270.76 419.4,269.1 420.72,267.54 422.04,266.04 423.36,264.61 424.68,263.26 426,262 427.37,260.65 428.73,259.2 430.1,257.81 431.47,256.63 432.83,255.81 434.2,255.5 435.45,255.62 436.7,255.9 437.95,256.18 439.2,256.3 440.43,256.25 441.65,256.15 442.88,256.05 444.1,256 445.33,256.44 446.55,257.48 447.77,258.67 449,259.6 450.38,260.27 451.77,260.83 453.15,261.34 454.53,261.83 455.92,262.33 457.3,262.9 458.67,263.54 460.03,264.23 461.4,264.95 462.77,265.66 464.13,266.36 465.5,267 466.87,267.59 468.23,268.15 469.6,268.7 470.97,269.23 472.33,269.76 473.7,270.3 475.08,270.87 476.47,271.46 477.85,272.04 479.23,272.61 480.62,273.13 482,273.6 483.37,273.99 484.73,274.34 486.1,274.66 487.47,274.98 488.83,275.32 490.2,275.7 491.61,276.21 493.03,276.85 494.44,277.53 495.86,278.19 497.27,278.76 498.69,279.15 500.1,279.3 501.47,279.23 502.83,279.05 504.2,278.76 505.57,278.37 506.93,277.92 508.3,277.4 509.7,276.48 511.1,275.07 512.5,273.5 513.8,271.97 515.1,270.24 516.4,268.3 517.65,266.13 518.9,263.67 520.15,261.05 521.4,258.4 522.62,255.77 523.85,253.04 525.07,250.27 526.3,247.5 527.6,244.47 528.9,241.42 530.2,238.7 531.53,236.27 532.87,234.08 534.2,232.3 535.5,230.94 536.8,229.81 538.1,228.8 539.33,227.8 540.55,226.79 541.77,226.01 543,225.7 544.37,225.73 545.73,225.82 547.1,225.96 548.47,226.14 549.83,226.36 551.2,226.6 552.58,227.01 553.97,227.68 555.35,228.52 556.73,229.44 558.12,230.36 559.5,231.2 560.9,231.99 562.3,232.8 563.7,233.61 565.1,234.41 566.5,235.19 567.9,235.92 569.3,236.6 570.68,237.21 572.07,237.78 573.45,238.32 574.83,238.85 576.22,239.37 577.6,239.9 578.97,240.43 580.33,240.96 581.7,241.49 583.07,242 584.43,242.51 585.8,243 587.17,243.46 588.53,243.9 589.9,244.33 591.27,244.76 592.63,245.21 594,245.7 595.32,246.27 596.64,246.93 597.96,247.58 599.28,248.14 600.6,248.5 602.08,248.75 603.56,248.97 605.04,249.14 606.52,249.26 608,249.3 609.24,249.08 610.48,248.51 611.72,247.7 612.96,246.76 614.2,245.8 615.45,244.74 616.7,243.45 617.95,241.99 619.2,240.4 620.68,238.22 622.15,235.69 623.62,233.04 625.1,230.5 626.48,228.36 627.86,226.36 629.24,224.32 630.62,222.12 632,219.6 633.25,216.5 634.5,212.75 635.75,209.22 637,206.8 638.2,205.45 639.4,204.38 640.6,203.51 641.8,202.8 643.17,202.04 644.53,201.3 645.9,200.64 647.27,200.1 648.63,199.73 650,199.6 651.38,199.6 652.77,199.6 654.15,199.6 655.53,199.6 656.92,199.6 658.3,199.6 659.68,199.83 661.07,200.41 662.45,201.2 663.83,202.05 665.22,202.8 666.6,203.3 667.92,203.56 669.24,203.76 670.56,203.93 671.88,204.13 673.2,204.4 674.57,204.86 675.93,205.53 677.3,206.31 678.67,207.16 680.03,207.98 681.4,208.7 682.77,209.33 684.13,209.93 685.5,210.51 686.87,211.09 688.23,211.68 689.6,212.3 690.98,212.96 692.37,213.64 693.75,214.34 695.13,215.04 696.52,215.73 697.9,216.4 699.22,217.07 700.54,217.78 701.86,218.46 703.18,219.02 704.5,219.4 705.8,219.64 707.1,219.86 708.4,220.04 709.7,220.16 711,220.2 712.17,219.94 713.33,219.3 714.5,218.5 715.73,217.34 716.97,215.73 718.2,213.9 719.5,211.66 720.8,209.03 722.1,206.21 723.4,203.4 724.73,200.55 726.05,197.62 727.38,194.65 728.7,191.7 730.13,188.54 731.57,185.38 733,182.2 734.4,179.03 735.8,175.83 737.2,172.7 738.6,169.43 740,166.23 741.4,163.8 742.73,162.31 744.05,161.12 745.38,160.08 746.7,159 747.96,157.83 749.22,156.6 750.48,155.42 751.74,154.41 753,153.7 754.42,153.12 755.83,152.57 757.25,152.1 758.67,151.73 760.08,151.49 761.5,151.4 762.76,151.47 764.02,151.67 765.28,151.97 766.54,152.32 767.8,152.7 769.06,153.23 770.32,153.97 771.58,154.83 772.84,155.67 774.1,156.4 775.52,157.07 776.93,157.68 778.35,158.25 779.77,158.82 781.18,159.43 782.6,160.1 783.86,160.8 785.12,161.59 786.38,162.39 787.64,163.15 788.9,163.8 790.25,164.35 791.6,164.83 792.95,165.26 794.3,165.7 795.65,166.16 797,166.7 798.42,167.41 799.84,168.25 801.26,169.13 802.68,169.94 804.1,170.6 805.5,171.11 806.9,171.56 808.3,171.96 809.7,172.3 811.12,172.63 812.55,172.96 813.98,173.2 815.4,173.3 816.62,173.15 817.85,172.77 819.07,172.23 820.3,171.6 821.7,170.62 823.1,169.2 824.5,167.4 825.67,165.37 826.83,162.69 828,159.6 829.17,155.69 830.33,151.11 831.5,147 832.75,143.47 834,140.3 835.25,137.3 836.5,134.3 837.9,130.89 839.3,127.56 840.7,124.4 841.93,121.76 843.15,119.19 844.38,116.78 845.6,114.6 846.85,112.59 848.1,110.73 849.35,109.03 850.6,107.5 852,105.79 853.4,104.02 854.8,102.45 856.2,101.33 857.6,100.9 859,101.01 860.4,101.25 861.8,101.49 863.2,101.6 864.5,101.5 865.8,101.24 867.1,100.9 868.4,100.56 869.7,100.3 871,100.2 872.23,100.47 873.45,101.11 874.67,101.9 875.9,102.6 877.25,103.24 878.6,103.87 879.95,104.49 881.3,105.1" fill="none" stroke="#c4bcf2" stroke-width="3.3" stroke-linejoin="round" stroke-linecap="round"/>
<polyline points="89.5,293.2 97.4,254.9 101.9,216.6 106.4,185 110.5,160.5 115.3,149.6 118.9,152.3 124.9,171.8 126.12,175.34 127.35,178.7 128.58,182.06 129.8,185.6 131.03,189.51 132.25,193.67 133.47,197.74 134.7,201.4 136.17,205.11 137.65,208.42 139.12,211.67 140.6,215.2 141.82,218.62 143.05,222.33 144.28,225.93 145.5,229 146.92,231.96 148.34,234.66 149.76,237.11 151.18,239.35 152.6,241.4 154.04,243.31 155.49,245.07 156.93,246.71 158.37,248.26 159.81,249.75 161.26,251.22 162.7,252.7 164.11,254.19 165.52,255.7 166.94,257.21 168.35,258.69 169.76,260.09 171.18,261.38 172.59,262.53 174,263.5 175.4,264.34 176.8,265.1 178.2,265.73 179.6,266.2 180.9,266.54 182.2,266.87 183.5,267.17 184.8,267.43 186.1,267.62 187.4,267.75 188.7,267.8 190.04,267.66 191.38,267.26 192.72,266.66 194.06,265.92 195.4,265.1 196.82,263.64 198.25,261.45 199.68,259.12 201.1,257.2 202.44,255.83 203.78,254.57 205.12,253.42 206.46,252.4 207.8,251.5 209.16,250.67 210.52,249.87 211.88,249.17 213.24,248.6 214.6,248.2 216.1,247.89 217.6,247.6 219.1,247.36 220.6,247.17 222.1,247.04 223.6,247 225,247.11 226.4,247.41 227.8,247.79 229.2,248.2 230.53,248.64 231.87,249.17 233.2,249.7 234.58,250.2 235.97,250.69 237.35,251.17 238.73,251.66 240.12,252.17 241.5,252.7 242.87,253.23 244.23,253.76 245.6,254.3 246.97,254.89 248.33,255.55 249.7,256.3 251.07,257.25 252.43,258.42 253.8,259.73 255.17,261.1 256.53,262.45 257.9,263.7 259.22,264.81 260.54,265.9 261.86,266.97 263.18,268.03 264.5,269.1 265.82,270.19 267.14,271.29 268.46,272.38 269.78,273.43 271.1,274.4 272.42,275.27 273.74,276.05 275.06,276.82 276.38,277.61 277.7,278.5 278.93,279.56 280.15,280.78 281.38,281.89 282.6,282.6 283.98,283.03 285.37,283.37 286.75,283.64 288.13,283.87 289.52,284.09 290.9,284.3 292.27,284.54 293.63,284.78 295,285.02 296.37,285.21 297.73,285.35 299.1,285.4 300.42,285.27 301.74,284.92 303.06,284.39 304.38,283.74 305.7,283 306.93,281.96 308.15,280.42 309.38,278.65 310.6,276.9 311.85,275.13 313.1,273.25 314.35,271.34 315.6,269.5 316.92,267.55 318.24,265.56 319.56,263.63 320.88,261.87 322.2,260.4 323.57,259.07 324.93,257.79 326.3,256.62 327.67,255.61 329.03,254.81 330.4,254.3 331.77,253.96 333.13,253.65 334.5,253.38 335.87,253.18 337.23,253.05 338.6,253 339.97,253.06 341.33,253.23 342.7,253.49 344.07,253.82 345.43,254.19 346.8,254.6 348.12,255.18 349.44,256.01 350.76,256.98 352.08,257.96 353.4,258.8 354.78,259.53 356.17,260.18 357.55,260.81 358.93,261.45 360.32,262.13 361.7,262.9 363.02,263.79 364.34,264.81 365.66,265.88 366.98,266.9 368.3,267.8 369.71,268.63 371.13,269.4 372.54,270.13 373.96,270.82 375.37,271.49 376.79,272.14 378.2,272.8 379.58,273.44 380.97,274.08 382.35,274.7 383.73,275.3 385.12,275.87 386.5,276.4 387.82,276.87 389.14,277.33 390.46,277.75 391.78,278.14 393.1,278.5 394.44,278.85 395.78,279.23 397.11,279.59 398.45,279.94 399.79,280.24 401.12,280.48 402.46,280.64 403.8,280.7 405.23,280.55 406.65,280.15 408.07,279.6 409.5,279 410.75,278.4 412,277.65 413.25,276.74 414.5,275.7 415.73,274.33 416.95,272.59 418.17,270.76 419.4,269.1 420.72,267.54 422.04,266.04 423.36,264.61 424.68,263.26 426,262 427.37,260.65 428.73,259.2 430.1,257.81 431.47,256.63 432.83,255.81 434.2,255.5 435.45,255.62 436.7,255.9 437.95,256.18 439.2,256.3 440.43,256.25 441.65,256.15 442.88,256.05 444.1,256 445.33,256.44 446.55,257.48 447.77,258.67 449,259.6 450.38,260.27 451.77,260.83 453.15,261.34 454.53,261.83 455.92,262.33 457.3,262.9 458.67,263.54 460.03,264.23 461.4,264.95 462.77,265.66 464.13,266.36 465.5,267 466.87,267.59 468.23,268.15 469.6,268.7 470.97,269.23 472.33,269.76 473.7,270.3 475.08,270.87 476.47,271.46 477.85,272.04 479.23,272.61 480.62,273.13 482,273.6 483.37,273.99 484.73,274.34 486.1,274.66 487.47,274.98 488.83,275.32 490.2,275.7 491.61,276.21 493.03,276.85 494.44,277.53 495.86,278.19 497.27,278.76 498.69,279.15 500.1,279.3 501.47,279.23 502.83,279.05 504.2,278.76 505.57,278.37 506.93,277.92 508.3,277.4 509.7,276.48 511.1,275.07 512.5,273.5 513.8,271.97 515.1,270.24 516.4,268.3 517.65,266.13 518.9,263.67 520.15,261.05 521.4,258.4 522.62,255.77 523.85,253.04 525.07,250.27 526.3,247.5 527.6,244.47 528.9,241.42 530.2,238.7 531.53,236.27 532.87,234.08 534.2,232.3 535.5,230.94 536.8,229.81 538.1,228.8 539.33,227.8 540.55,226.79 541.77,226.01 543,225.7 544.37,225.73 545.73,225.82 547.1,225.96 548.47,226.14 549.83,226.36 551.2,226.6 552.58,227.01 553.97,227.68 555.35,228.52 556.73,229.44 558.12,230.36 559.5,231.2 560.9,231.99 562.3,232.8 563.7,233.61 565.1,234.41 566.5,235.19 567.9,235.92 569.3,236.6 570.68,237.21 572.07,237.78 573.45,238.32 574.83,238.85 576.22,239.37 577.6,239.9 578.97,240.43 580.33,240.96 581.7,241.49 583.07,242 584.43,242.51 585.8,243 587.17,243.46 588.53,243.9 589.9,244.33 591.27,244.76 592.63,245.21 594,245.7 595.32,246.27 596.64,246.93 597.96,247.58 599.28,248.14 600.6,248.5 602.08,248.75 603.56,248.97 605.04,249.14 606.52,249.26 608,249.3 609.24,249.08 610.48,248.51 611.72,247.7 612.96,246.76 614.2,245.8 615.45,244.74 616.7,243.45 617.95,241.99 619.2,240.4 620.68,238.22 622.15,235.69 623.62,233.04 625.1,230.5 626.48,228.36 627.86,226.36 629.24,224.32 630.62,222.12 632,219.6 633.25,216.5 634.5,212.75 635.75,209.22 637,206.8 638.2,205.45 639.4,204.38 640.6,203.51 641.8,202.8 643.17,202.04 644.53,201.3 645.9,200.64 647.27,200.1 648.63,199.73 650,199.6 651.38,199.6 652.77,199.6 654.15,199.6 655.53,199.6 656.92,199.6 658.3,199.6 659.68,199.83 661.07,200.41 662.45,201.2 663.83,202.05 665.22,202.8 666.6,203.3 667.92,203.56 669.24,203.76 670.56,203.93 671.88,204.13 673.2,204.4 674.57,204.86 675.93,205.53 677.3,206.31 678.67,207.16 680.03,207.98 681.4,208.7 682.77,209.33 684.13,209.93 685.5,210.51 686.87,211.09 688.23,211.68 689.6,212.3 690.98,212.96 692.37,213.64 693.75,214.34 695.13,215.04 696.52,215.73 697.9,216.4 699.22,217.07 700.54,217.78 701.86,218.46 703.18,219.02 704.5,219.4 705.8,219.64 707.1,219.86 708.4,220.04 709.7,220.16 711,220.2 712.17,219.94 713.33,219.3 714.5,218.5 715.73,217.34 716.97,215.73 718.2,213.9 719.5,211.66 720.8,209.03 722.1,206.21 723.4,203.4 724.73,200.55 726.05,197.62 727.38,194.65 728.7,191.7 730.13,188.54 731.57,185.38 733,182.2 734.4,179.03 735.8,175.83 737.2,172.7 738.6,169.43 740,166.23 741.4,163.8 742.73,162.31 744.05,161.12 745.38,160.08 746.7,159 747.96,157.83 749.22,156.6 750.48,155.42 751.74,154.41 753,153.7 754.42,153.12 755.83,152.57 757.25,152.1 758.67,151.73 760.08,151.49 761.5,151.4 762.76,151.47 764.02,151.67 765.28,151.97 766.54,152.32 767.8,152.7 769.06,153.23 770.32,153.97 771.58,154.83 772.84,155.67 774.1,156.4 775.52,157.07 776.93,157.68 778.35,158.25 779.77,158.82 781.18,159.43 782.6,160.1 783.86,160.8 785.12,161.59 786.38,162.39 787.64,163.15 788.9,163.8 790.25,164.35 791.6,164.83 792.95,165.26 794.3,165.7 795.65,166.16 797,166.7 798.42,167.41 799.84,168.25 801.26,169.13 802.68,169.94 804.1,170.6 805.5,171.11 806.9,171.56 808.3,171.96 809.7,172.3 811.12,172.63 812.55,172.96 813.98,173.2 815.4,173.3 816.62,173.15 817.85,172.77 819.07,172.23 820.3,171.6 821.7,170.62 823.1,169.2 824.5,167.4 825.67,165.37 826.83,162.69 828,159.6 829.17,155.69 830.33,151.11 831.5,147 832.75,143.47 834,140.3 835.25,137.3 836.5,134.3 837.9,130.89 839.3,127.56 840.7,124.4 841.93,121.76 843.15,119.19 844.38,116.78 845.6,114.6 846.85,112.59 848.1,110.73 849.35,109.03 850.6,107.5 852,105.79 853.4,104.02 854.8,102.45 856.2,101.33 857.6,100.9 859,101.01 860.4,101.25 861.8,101.49 863.2,101.6 864.5,101.5 865.8,101.24 867.1,100.9 868.4,100.56 869.7,100.3 871,100.2 872.23,100.47 873.45,101.11 874.67,101.9 875.9,102.6 877.25,103.24 878.6,103.87 879.95,104.49 881.3,105.1" fill="none" stroke="#2818c4" stroke-width="1.75" stroke-linejoin="round" stroke-linecap="round"/>
<rect x="83" y="16" width="2" height="594" fill="#c6c6c6"/>
<path d="M81 607.02H84M81 587.3H84M81 567.57H84M81 547.85H84M81 528.12H84M81 508.4H84M81 488.67H84M81 468.95H84M81 449.22H84M81 429.5H84M81 409.77H84M81 390.05H84M81 370.32H84M81 350.6H84M81 330.87H84M81 311.15H84M81 291.42H84M81 271.7H84M81 251.97H84M81 232.25H84M81 212.52H84M81 192.8H84M81 173.07H84M81 153.35H84M81 133.62H84M81 113.9H84M81 94.17H84M81 74.45H84M81 54.72H84M81 35H84" stroke="#888" stroke-width="1"/>
<g font-size="11" fill="#5c5c5c"><text transform="translate(76.75,611.49) scale(1.26,1)" text-anchor="end">-50</text><text transform="translate(76.75,591.7) scale(1.27,1)" text-anchor="end">0</text><text transform="translate(76.75,571.91) scale(1.3,1)" text-anchor="end">50</text><text transform="translate(76.75,552.12) scale(1.28,1)" text-anchor="end">100</text><text transform="translate(76.75,532.33) scale(1.28,1)" text-anchor="end">150</text><text transform="translate(76.75,512.54) scale(1.28,1)" text-anchor="end">200</text><text transform="translate(76.75,492.75) scale(1.28,1)" text-anchor="end">250</text><text transform="translate(76.75,472.96) scale(1.28,1)" text-anchor="end">300</text><text transform="translate(76.75,453.17) scale(1.28,1)" text-anchor="end">350</text><text transform="translate(76.75,433.39) scale(1.28,1)" text-anchor="end">400</text><text transform="translate(76.75,413.6) scale(1.28,1)" text-anchor="end">450</text><text transform="translate(76.75,393.81) scale(1.28,1)" text-anchor="end">500</text><text transform="translate(76.75,374.02) scale(1.28,1)" text-anchor="end">550</text><text transform="translate(76.75,354.23) scale(1.28,1)" text-anchor="end">600</text><text transform="translate(76.75,334.44) scale(1.28,1)" text-anchor="end">650</text><text transform="translate(76.75,314.65) scale(1.28,1)" text-anchor="end">700</text><text transform="translate(76.75,294.86) scale(1.28,1)" text-anchor="end">750</text><text transform="translate(76.75,275.07) scale(1.28,1)" text-anchor="end">800</text><text transform="translate(76.75,255.28) scale(1.28,1)" text-anchor="end">850</text><text transform="translate(76.75,235.49) scale(1.28,1)" text-anchor="end">900</text><text transform="translate(76.75,215.7) scale(1.28,1)" text-anchor="end">950</text><text transform="translate(76.75,195.91) scale(1.31,1)" text-anchor="end">1,000</text><text transform="translate(76.75,176.12) scale(1.31,1)" text-anchor="end">1,050</text><text transform="translate(76.75,156.34) scale(1.31,1)" text-anchor="end">1,100</text><text transform="translate(76.75,136.55) scale(1.31,1)" text-anchor="end">1,150</text><text transform="translate(76.75,116.76) scale(1.31,1)" text-anchor="end">1,200</text><text transform="translate(76.75,96.97) scale(1.31,1)" text-anchor="end">1,250</text><text transform="translate(76.75,77.18) scale(1.31,1)" text-anchor="end">1,300</text><text transform="translate(76.75,57.39) scale(1.31,1)" text-anchor="end">1,350</text><text transform="translate(76.75,37.6) scale(1.31,1)" text-anchor="end">1,400</text></g>
<text transform="translate(26.5,323.8) scale(1.2,1) rotate(-90)" text-anchor="middle" font-size="12" fill="#222" stroke="#222" stroke-width="0.35" textLength="166.2" lengthAdjust="spacingAndGlyphs">FAIRVIEW DAM - Inflow (cfs)</text>
<path d="M89 614.5H885.5" stroke="#888" stroke-width="1"/>
<path d="M118.6 614V617.5M223.4 614V617.5M326.9 614V617.5M430.5 614V617.5M533.9 614V617.5M637.2 614V617.5M742 614V617.5M845.4 614V617.5" stroke="#888" stroke-width="1"/>
<path d="M118.6 631V641.5M223.4 631V641.5M326.9 631V641.5M430.5 631V641.5M533.9 631V641.5M637.2 631V641.5M742 631V641.5M845.4 631V641.5" stroke="#c8c8c8" stroke-width="1"/>
<g font-size="8.6" fill="#222" stroke="#222" stroke-width="0.3"><text x="85.2" y="625.5" textLength="13.2" lengthAdjust="spacingAndGlyphs">17</text><text x="106.82" y="625.5" textLength="13.2" lengthAdjust="spacingAndGlyphs">22</text><text x="128.44" y="625.5" textLength="13.2" lengthAdjust="spacingAndGlyphs">03</text><text x="150.06" y="625.5" textLength="13.2" lengthAdjust="spacingAndGlyphs">08</text><text x="171.68" y="625.5" textLength="13.2" lengthAdjust="spacingAndGlyphs">13</text><text x="193.3" y="625.5" textLength="13.2" lengthAdjust="spacingAndGlyphs">18</text><text x="214.92" y="625.5" textLength="13.2" lengthAdjust="spacingAndGlyphs">23</text><text x="236.54" y="625.5" textLength="13.2" lengthAdjust="spacingAndGlyphs">04</text><text x="258.16" y="625.5" textLength="13.2" lengthAdjust="spacingAndGlyphs">09</text><text x="279.78" y="625.5" textLength="13.2" lengthAdjust="spacingAndGlyphs">14</text><text x="301.4" y="625.5" textLength="13.2" lengthAdjust="spacingAndGlyphs">19</text><text x="323.02" y="625.5" textLength="13.2" lengthAdjust="spacingAndGlyphs">00</text><text x="344.64" y="625.5" textLength="13.2" lengthAdjust="spacingAndGlyphs">05</text><text x="366.26" y="625.5" textLength="13.2" lengthAdjust="spacingAndGlyphs">10</text><text x="387.88" y="625.5" textLength="13.2" lengthAdjust="spacingAndGlyphs">15</text><text x="409.5" y="625.5" textLength="13.2" lengthAdjust="spacingAndGlyphs">20</text><text x="431.12" y="625.5" textLength="13.2" lengthAdjust="spacingAndGlyphs">01</text><text x="452.74" y="625.5" textLength="13.2" lengthAdjust="spacingAndGlyphs">06</text><text x="474.36" y="625.5" textLength="13.2" lengthAdjust="spacingAndGlyphs">11</text><text x="495.98" y="625.5" textLength="13.2" lengthAdjust="spacingAndGlyphs">16</text><text x="517.6" y="625.5" textLength="13.2" lengthAdjust="spacingAndGlyphs">21</text><text x="539.22" y="625.5" textLength="13.2" lengthAdjust="spacingAndGlyphs">02</text><text x="560.84" y="625.5" textLength="13.2" lengthAdjust="spacingAndGlyphs">07</text><text x="582.46" y="625.5" textLength="13.2" lengthAdjust="spacingAndGlyphs">12</text><text x="604.08" y="625.5" textLength="13.2" lengthAdjust="spacingAndGlyphs">17</text><text x="625.7" y="625.5" textLength="13.2" lengthAdjust="spacingAndGlyphs">22</text><text x="647.32" y="625.5" textLength="13.2" lengthAdjust="spacingAndGlyphs">03</text><text x="668.94" y="625.5" textLength="13.2" lengthAdjust="spacingAndGlyphs">08</text><text x="690.56" y="625.5" textLength="13.2" lengthAdjust="spacingAndGlyphs">13</text><text x="712.18" y="625.5" textLength="13.2" lengthAdjust="spacingAndGlyphs">18</text><text x="733.8" y="625.5" textLength="13.2" lengthAdjust="spacingAndGlyphs">23</text><text x="755.42" y="625.5" textLength="13.2" lengthAdjust="spacingAndGlyphs">04</text><text x="777.04" y="625.5" textLength="13.2" lengthAdjust="spacingAndGlyphs">09</text><text x="798.66" y="625.5" textLength="13.2" lengthAdjust="spacingAndGlyphs">14</text><text x="820.28" y="625.5" textLength="13.2" lengthAdjust="spacingAndGlyphs">19</text><text x="841.9" y="625.5" textLength="13.2" lengthAdjust="spacingAndGlyphs">00</text><text x="863.52" y="625.5" textLength="13.2" lengthAdjust="spacingAndGlyphs">05</text></g>
<g font-size="8.2" fill="#222" stroke="#222" stroke-width="0.3"><text x="152.85" y="639.5" textLength="27.2" lengthAdjust="spacingAndGlyphs">18-M</text><text x="181.25" y="639.5" textLength="10.4" lengthAdjust="spacingAndGlyphs">ar</text><text x="256.35" y="639.5" textLength="27.2" lengthAdjust="spacingAndGlyphs">19-M</text><text x="284.75" y="639.5" textLength="10.4" lengthAdjust="spacingAndGlyphs">ar</text><text x="359.75" y="639.5" textLength="27.2" lengthAdjust="spacingAndGlyphs">20-M</text><text x="388.15" y="639.5" textLength="10.4" lengthAdjust="spacingAndGlyphs">ar</text><text x="463.15" y="639.5" textLength="27.2" lengthAdjust="spacingAndGlyphs">21-M</text><text x="491.55" y="639.5" textLength="10.4" lengthAdjust="spacingAndGlyphs">ar</text><text x="566.75" y="639.5" textLength="27.2" lengthAdjust="spacingAndGlyphs">22-M</text><text x="595.15" y="639.5" textLength="10.4" lengthAdjust="spacingAndGlyphs">ar</text><text x="671.45" y="639.5" textLength="27.2" lengthAdjust="spacingAndGlyphs">23-M</text><text x="699.85" y="639.5" textLength="10.4" lengthAdjust="spacingAndGlyphs">ar</text><text x="774.75" y="639.5" textLength="27.2" lengthAdjust="spacingAndGlyphs">24-M</text><text x="803.15" y="639.5" textLength="10.4" lengthAdjust="spacingAndGlyphs">ar</text></g>
<text x="412.3" y="655.2" font-size="11" fill="#333" textLength="148.2" lengthAdjust="spacingAndGlyphs">Hour/Date (PST8PDT)</text>
<rect x="0.5" y="667.5" width="896.5" height="35.5" fill="#fff" stroke="#333" stroke-width="1"/>
<path d="M4 677.3H22.2" stroke="#2818c4" stroke-width="1.6"/>
<path d="M334.5 677.3H351.5" stroke="#2aa622" stroke-width="1.6"/>
<path d="M4 694.9H22" stroke="#861c86" stroke-width="1.6"/>
<path d="M349 694.9H366" stroke="#bb9526" stroke-width="1.6"/>
<g font-size="10.3" fill="#555">
<text x="29.1" y="680.2" textLength="298.8" lengthAdjust="spacingAndGlyphs" xml:space="preserve">FAIRVIEW DAM--FAIRVIEW DAM - Inflow  (cfs)</text>
<text x="358.3" y="680.2" textLength="408.4" lengthAdjust="spacingAndGlyphs" xml:space="preserve">FAIRVIEW DAM--FAIRVIEW DAM - Running day Average  (cfs)</text>
<text x="29.1" y="697.8" textLength="313.5" lengthAdjust="spacingAndGlyphs" xml:space="preserve">Kern River #3-Kern River #3 Canal Flow  (cfs)</text>
<text x="373.2" y="697.8" textLength="465.5" lengthAdjust="spacingAndGlyphs" xml:space="preserve">Kern River Blw Fairview Dam-Kern River Blw Fairview Dam Flow  (cfs)</text>
</g>
</svg></body></html>
